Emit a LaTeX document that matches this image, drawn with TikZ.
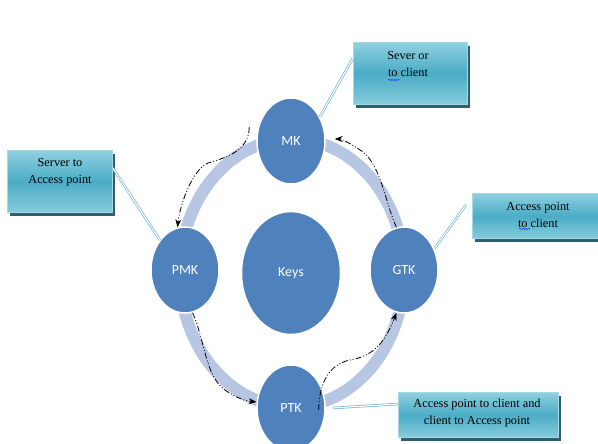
\documentclass[tikz,border=0pt]{standalone}
\usepackage{fontspec}
\setmainfont{Liberation Serif}
\newfontfamily\labelfont{Carlito}
\usetikzlibrary{shapes.geometric,shadows,arrows.meta,decorations.pathmorphing}

\definecolor{keyblue}{HTML}{4F81BD}
\definecolor{ringblue}{HTML}{B7C6E2}
\definecolor{boxtop}{HTML}{8FD0E0}
\definecolor{boxmid}{HTML}{4BACC6}
\definecolor{boxbot}{HTML}{86CCDC}
\definecolor{boxedge}{HTML}{A6D8E5}
\definecolor{boxshade}{HTML}{2F5F6E}
\definecolor{linkteal}{HTML}{5FAFC4}

\tikzset{
  keynode/.style={ellipse, fill=keyblue, draw=white, line width=1.5pt,
    text=white, font=\labelfont\fontsize{14}{16}\selectfont},
  ring/.style={draw=ringblue, line width=12pt},
  infobox/.style={rectangle, draw=boxedge, line width=0.8pt, anchor=north west,
    top color=boxtop, bottom color=boxbot, middle color=boxmid,
    general shadow={fill=boxshade, shadow xshift=2.5pt, shadow yshift=-3.5pt}},
  boxtext/.style={align=center, font=\fontsize{12.3}{16.5}\selectfont, inner sep=0pt},
  flow/.style={draw=black, line width=0.8pt,
    dash pattern=on 6pt off 2pt on 1pt off 2pt on 1pt off 2pt,
    -{Stealth[length=8pt,width=6pt]}},
  link/.style={draw=linkteal, double=white, double distance=1.2pt, line width=0.6pt},
  spell/.style={draw=blue!80, line width=0.5pt,
    decorate, decoration={snake, amplitude=0.8pt, segment length=3pt}}
}

\begin{document}
\begin{tikzpicture}[x=1pt, y=-1pt]
  \useasboundingbox (0,0) rectangle (598,444);
  \clip (0,0) rectangle (598,444);

  % ring joining the four keys
  \draw[ring] (292,273) ellipse [x radius=112, y radius=134];

  % key nodes
  \node[keynode, minimum width=68pt, minimum height=86pt] (mk)  at (291,141) {MK};
  \node[keynode, minimum width=68pt, minimum height=86pt] (pmk) at (185,270) {PMK};
  \node[keynode, minimum width=68pt, minimum height=86pt] (gtk) at (404,270) {GTK};
  \node[keynode, minimum width=68pt, minimum height=86pt] (ptk) at (291,408) {PTK};
  \node[keynode, minimum width=99pt, minimum height=123pt] (keys) at (291,273) {Keys};

  % description boxes
  \node[infobox, minimum width=114pt, minimum height=62pt] (b1) at (353,42) {};
  \node[boxtext] (t1) at (408,64) {Sever or\\to client};
  \node[infobox, minimum width=105pt, minimum height=62pt] (b2) at (7,150) {};
  \node[boxtext] (t2) at (60,172) {Server to\\Access point};
  \node[infobox, minimum width=140pt, minimum height=45pt] (b3) at (472,193) {};
  \node[boxtext] (t3) at (538,215) {Access point\\to client};
  \node[infobox, minimum width=160pt, minimum height=45pt] (b4) at (398,392) {};
  \node[boxtext] (t4) at (477,413) {Access point to client and\\client to Access point};

  % spelling marks under "to"
  \draw[spell] (388,80) -- (400,80);
  \draw[spell] (519,229) -- (530,229);

  % callout lines from boxes to keys
  \draw[link] ([yshift=-16pt]b1.north west) -- (mk.40);
  \draw[link] ([yshift=-18pt]b2.north east) -- (pmk.130);
  \draw[link] ([xshift=-6pt,yshift=-12pt]b3.north west) -- (gtk.35);
  \draw[link] ([yshift=-12pt]b4.north west) -- ([xshift=7pt]ptk.east);

  % key derivation flow
  \draw[flow] ([xshift=-7pt,yshift=14pt]mk.west)
    .. controls (249,152) and (224,158) .. (208,163)
    .. controls (192,170) and (180,205) .. (pmk.100);
  \draw[flow] (pmk.-80)
    .. controls (205,340) and (205,376) .. (225,390)
    .. controls (236,398) and (246,401) .. (ptk.170);
  \draw[flow] ([xshift=-7pt,yshift=-2pt]ptk.east)
    .. controls (319,382) and (330,364) .. (350,360)
    .. controls (375,356) and (386,340) .. (gtk.-100);
  \draw[flow] (gtk.100)
    .. controls (386,205) and (381,166) .. (363,152)
    .. controls (353,145) and (342,139) .. ([xshift=9pt,yshift=2pt]mk.east);
\end{tikzpicture}
\end{document}
